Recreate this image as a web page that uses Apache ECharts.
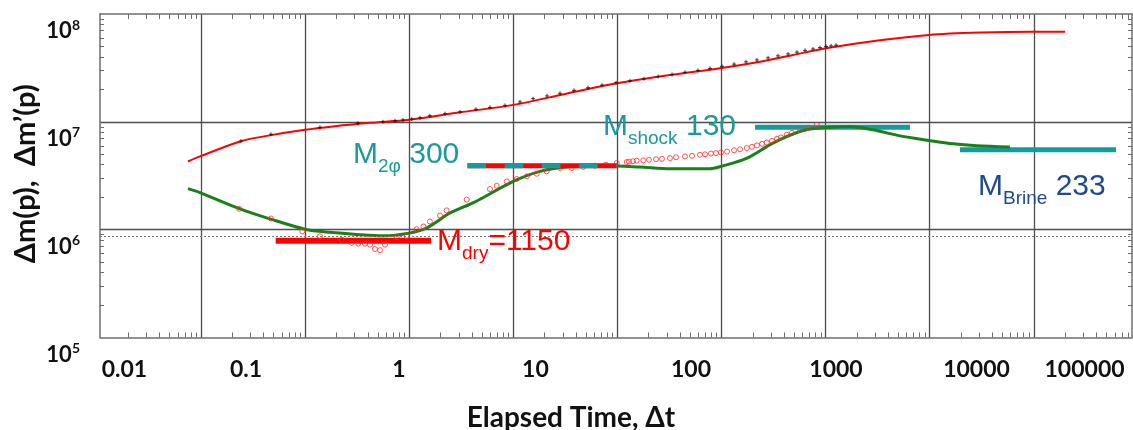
<!DOCTYPE html>
<html>
<head>
<meta charset="utf-8">
<script src="https://cdn.jsdelivr.net/npm/echarts@6/dist/echarts.min.js"></script>
<style>
  html, body { margin: 0; padding: 0; background: #ffffff; }
  #chart { width: 1133px; height: 430px; }
</style>
</head>
<body>
<div id="chart"></div>
<script>
// ---- Data -------------------------------------------------------------
// Δm(p): pseudo-pressure change, model curve
const dmTime  = [0.0075, 0.00977, 0.0237, 0.0431, 0.0998, 0.185, 0.42, 1.0, 3.08, 10, 31.3, 99,
                 320, 968, 2340, 4860, 10100, 31800, 98400, 304000, 982000, 2.0e6];
const dmValue = [4.29e6, 4.78e6, 6.58e6, 7.41e6, 8.43e6, 9.06e6, 9.8e6, 1.045e7, 1.225e7, 1.436e7, 1.815e7, 2.28e7,
                 2.72e7, 3.14e7, 3.61e7, 4.17e7, 4.81e7, 5.68e7, 6.4e7, 6.72e7, 6.85e7, 6.85e7];

// Δm(p): measured points (crosses)
const dmObsTime  = [0.0242, 0.047, 0.139, 0.322, 0.56, 0.731, 0.871, 1.06, 1.27, 1.58, 2.21, 3.08, 4.38, 5.97,
                    8.33, 11.6, 15.5, 21.1, 28.1, 38.3, 52.2, 71.2, 97, 132, 180, 246, 335, 446, 594, 775,
                    1010, 1320, 1720, 2190, 2800, 3490, 4360, 5310, 6340, 7570, 8840, 10100, 11300, 12600];
const dmObsValue = [6.62e6, 7.67e6, 8.9e6, 9.7e6, 1.0e7, 1.023e7, 1.04e7, 1.06e7, 1.09e7, 1.14e7, 1.19e7, 1.235e7, 1.31e7, 1.36e7,
                    1.42e7, 1.53e7, 1.64e7, 1.74e7, 1.84e7, 1.96e7, 2.07e7, 2.19e7, 2.3e7, 2.4e7, 2.51e7, 2.63e7, 2.75e7, 2.88e7, 3.0e7, 3.13e7,
                    3.27e7, 3.43e7, 3.6e7, 3.75e7, 3.92e7, 4.09e7, 4.26e7, 4.43e7, 4.6e7, 4.74e7, 4.88e7, 5.0e7, 5.06e7, 5.14e7];

// Δm'(p): derivative, measured points (circles)
const derivObsTime  = [0.0233, 0.047, 0.094, 0.139, 0.225, 0.28, 0.324, 0.376, 0.42, 0.469, 0.524, 0.586, 0.759, 0.946,
                       1.18, 1.37, 1.58, 1.98, 2.29, 3.57, 5.97, 6.93, 8.65, 10.8, 13.5, 16.8, 20.9, 28.1, 36.4, 47,
                       61, 77.6, 98.5, 123, 129, 141, 153, 177, 201, 235, 268, 320, 366, 446, 521, 621, 695, 792,
                       885, 988, 1130, 1320, 1510, 1750, 1960, 2190, 2450, 2720, 3050, 3410, 3730, 4230, 4750, 5680, 6780, 8220];
const derivObsValue = [1.56e6, 1.27e6, 9.64e5, 8.67e5, 8.07e5, 7.53e5, 7.41e5, 7.41e5, 7.26e5, 6.62e5, 6.46e5, 7.26e5, 8.55e5, 8.67e5,
                       1.01e6, 1.07e6, 1.19e6, 1.35e6, 1.51e6, 1.9e6, 2.38e6, 2.55e6, 2.8e6, 2.95e6, 3.12e6, 3.3e6, 3.47e6, 3.73e6, 3.73e6, 3.81e6,
                       3.92e6, 4.0e6, 4.15e6, 4.24e6, 4.27e6, 4.31e6, 4.36e6, 4.39e6, 4.45e6, 4.5e6, 4.54e6, 4.61e6, 4.69e6, 4.78e6, 4.84e6, 4.95e6, 5.0e6, 5.08e6,
                       5.13e6, 5.2e6, 5.3e6, 5.45e6, 5.56e6, 5.71e6, 5.87e6, 6.05e6, 6.25e6, 6.43e6, 6.67e6, 6.96e6, 7.18e6, 7.59e6, 7.9e6, 8.43e6, 8.8e6, 9.38e6];

// Δm'(p): derivative, model curve
const derivTime  = [0.0075, 0.00977, 0.0237, 0.0459, 0.0998, 0.173, 0.336, 0.56, 1, 1.48, 2.47, 4.1, 10, 18, 32.8, 79.5,
                    165, 320, 774, 988, 1760, 3120, 5670, 8260, 17100, 28500, 51800, 98400, 168000, 284000, 589000];
const derivValue = [2.4e6, 2.21e6, 1.56e6, 1.26e6, 1.01e6, 9.44e5, 8.99e5, 8.79e5, 9.29e5, 1.04e6, 1.43e6, 1.77e6, 2.8e6, 3.47e6, 3.81e6, 3.92e6,
                    3.81e6, 3.67e6, 3.67e6, 3.86e6, 4.61e6, 6.35e6, 8.13e6, 8.7e6, 9.05e6, 8.43e6, 7.41e6, 6.72e6, 6.25e6, 6.0e6, 5.83e6];

// Derivative stabilisation levels (start time, end time, level)
const dryRange    = [0.0522, 1.62];     const dryLevel    = 7.91e5;
const twoPhRange  = [3.63, 99.1];       const twoPhLevel  = 3.92e6;
const shockRange  = [2100, 64700];      const shockLevel  = 8.9e6;
const brineRange  = [195000, 6.15e6];   const brineLevel  = 5.51e6;
const referenceLevel = 8.67e5;          // dotted reference line

// Axis labels
const xTickLabels  = ['0.01', '0.1', '1', '10', '100', '1000', '10000', '100000'];
const xTickLabelAt = [0.00184, 0.0271, 0.798, 16.3, 509, 12590, 281600, 3.07e6];
const yTickValues  = [1e5, 1e6, 1e7, 1e8];
const xDecades     = [0.01, 0.1, 1, 10, 100, 1000, 1e4, 1e5, 1e6];
const yDecades     = [1e6, 1e7];

// ---- Helpers ----------------------------------------------------------
const pairs = (xs, ys) => xs.map((x, i) => [x, ys[i]]);
const level = (range, v) => [[range[0], v], [range[1], v]];
function minorTicks(k0, k1) {
  const out = [];
  for (let k = k0; k <= k1; k++) for (let m = 2; m <= 9; m++) out.push(+(m * Math.pow(10, k)).toPrecision(6));
  return out;
}

const TIME_MIN = 1.072e-3, TIME_MAX = 8.77e6;
const AXIS_FONT = 'Lato, "Open Sans", sans-serif';
const NOTE_FONT = '"Liberation Sans", Arial, sans-serif';
const GRID_COLOR = '#4d4d4d';
const FRAME_COLOR = '#6e6e6e';
const TEAL = '#139c9c';
const TEAL_TEXT = '#1a9a9a';
const RED = '#ff0000';
const GREEN = '#1b7f1b';
const NAVY = '#1f4a8a';

const logX = (extra) => Object.assign({
  type: 'log', logBase: 10, min: TIME_MIN, max: TIME_MAX,
  axisLine: { show: false }, axisTick: { show: false }, axisLabel: { show: false },
  splitLine: { show: false }
}, extra);
const logY = (extra) => Object.assign({
  type: 'log', logBase: 10, min: 1e5, max: 1e8,
  axisLine: { show: false }, axisTick: { show: false }, axisLabel: { show: false },
  splitLine: { show: false }
}, extra);

// Annotation text "M<sub>xx</sub> value", built from separate text pieces
// so that the subscript baseline can be dropped below the main baseline.
const MAIN_SIZE = 30, SUB_SIZE = 19, SUB_DROP = 17;
const measureCtx = document.createElement('canvas').getContext('2d');
function textWidth(text, size) {
  measureCtx.font = size + 'px ' + NOTE_FONT;
  return measureCtx.measureText(text).width;
}
function note(x, y, parts, color) {
  let cx = x;
  const children = parts.map(([text, isSub]) => {
    const size = isSub ? SUB_SIZE : MAIN_SIZE;
    const el = {
      type: 'text', x: cx, y: isSub ? y + SUB_DROP : y, z: 100,
      style: { text, fill: color, fontFamily: NOTE_FONT, fontSize: size, lineHeight: size, verticalAlign: 'top', align: 'left' }
    };
    cx += textWidth(text, size);
    return el;
  });
  return { type: 'group', children };
}

const chart = echarts.init(document.getElementById('chart'), null, { renderer: 'canvas' });

chart.setOption({
  animation: false,
  backgroundColor: '#ffffff',
  grid: { left: 100, right: 1, top: 14, bottom: 92.5, containLabel: false, outerBoundsMode: 'none' },
  xAxis: [
    // decade grid + bottom frame, carries the data
    logX({
      position: 'bottom',
      axisLine: { show: true, lineStyle: { color: FRAME_COLOR, width: 1.5 } },
      axisTick: { show: false, customValues: xDecades },
      splitLine: { show: true, lineStyle: { color: GRID_COLOR, width: 1.3 } },
      name: 'Elapsed Time, \u0394t', nameLocation: 'middle', nameGap: 66,
      nameTextStyle: { fontFamily: AXIS_FONT, fontWeight: 'bold', fontSize: 28, color: '#111', padding: [0, 90, 0, 0] }
    }),
    // bottom minor ticks and tick labels
    logX({
      position: 'bottom',
      axisTick: { show: true, inside: true, length: 5, customValues: minorTicks(-3, 6), lineStyle: { color: FRAME_COLOR, width: 1 } },
      axisLabel: {
        show: true, customValues: xTickLabelAt, margin: 21,
        fontFamily: AXIS_FONT, fontWeight: 'bold', fontSize: 23, color: '#111',
        formatter: (v) => {
          const i = xTickLabelAt.findIndex(p => Math.abs(p - v) / p < 1e-3);
          return i >= 0 ? xTickLabels[i] : '';
        }
      }
    }),
    // top frame with minor ticks
    logX({
      position: 'top',
      axisLine: { show: true, lineStyle: { color: FRAME_COLOR, width: 1.5 } },
      axisTick: { show: true, inside: true, length: 5, customValues: minorTicks(-3, 6), lineStyle: { color: FRAME_COLOR, width: 1 } }
    })
  ],
  yAxis: [
    logY({
      position: 'left',
      axisLine: { show: true, lineStyle: { color: FRAME_COLOR, width: 1.5 } },
      axisTick: { show: false, customValues: yDecades },
      splitLine: { show: true, lineStyle: { color: GRID_COLOR, width: 1.3 } },
      name: '\u0394m(p),  \u0394m\u2019(p)', nameLocation: 'middle', nameGap: 60, nameRotate: 90,
      nameTextStyle: { fontFamily: AXIS_FONT, fontWeight: 'bold', fontSize: 29, color: '#111', padding: [0, 0, 0, 4] }
    }),
    logY({
      position: 'left',
      axisTick: { show: true, inside: true, length: 4, customValues: minorTicks(5, 7), lineStyle: { color: FRAME_COLOR, width: 1 } },
      axisLabel: {
        show: true, customValues: yTickValues, margin: 20,
        verticalAlign: 'top', padding: [4, 0, 0, 0],
        formatter: (v) => '{b|10}{p|' + Math.round(Math.log10(v)) + '}',
        rich: {
          b: { fontFamily: AXIS_FONT, fontWeight: 'bold', fontSize: 22, lineHeight: 24, color: '#111', verticalAlign: 'bottom' },
          p: { fontFamily: AXIS_FONT, fontWeight: 'bold', fontSize: 14, lineHeight: 14, color: '#111', verticalAlign: 'top' }
        }
      }
    }),
    logY({
      position: 'right',
      axisLine: { show: true, lineStyle: { color: FRAME_COLOR, width: 1.5 } },
      axisTick: { show: true, inside: true, length: 4, customValues: minorTicks(5, 7), lineStyle: { color: FRAME_COLOR, width: 1 } }
    })
  ],
  series: [
    {
      name: 'M dry', type: 'line', data: level(dryRange, dryLevel), symbol: 'none', z: 3,
      lineStyle: { color: RED, width: 6, cap: 'butt' },
      markLine: {
        silent: true, symbol: 'none', label: { show: false },
        lineStyle: { color: '#7a7a7a', width: 1, type: [2, 2] },
        data: [{ yAxis: referenceLevel }]
      }
    },
    { name: 'M shock', type: 'line', data: level(shockRange, shockLevel), symbol: 'none', z: 3,
      lineStyle: { color: TEAL, width: 5, cap: 'butt' } },
    { name: 'M brine', type: 'line', data: level(brineRange, brineLevel), symbol: 'none', z: 3,
      lineStyle: { color: TEAL, width: 5, cap: 'butt' } },
    { name: "Δm'(p) model", type: 'line', data: pairs(derivTime, derivValue), symbol: 'none', smooth: 0.3, z: 4,
      lineStyle: { color: GREEN, width: 3 } },
    { name: "Δm'(p)", type: 'scatter', data: pairs(derivObsTime, derivObsValue), symbol: 'circle', symbolSize: 5, z: 5,
      itemStyle: { color: 'rgba(255,255,255,0)', borderColor: '#ff2a2a', borderWidth: 1 } },
    { name: 'Δm(p) model', type: 'line', data: pairs(dmTime, dmValue), symbol: 'none', smooth: 0.3, z: 5,
      lineStyle: { color: RED, width: 2 } },
    { name: 'Δm(p)', type: 'scatter', data: pairs(dmObsTime, dmObsValue), symbol: 'path://M0,5L10,5M5,0L5,10', symbolSize: 4, z: 6,
      itemStyle: { color: 'rgba(0,0,0,0)', borderColor: '#111', borderWidth: 1 } },
    { name: 'M 2phase', type: 'line', data: level(twoPhRange, twoPhLevel), symbol: 'none', z: 7,
      lineStyle: { color: RED, width: 5, cap: 'butt' } },
    { name: 'M 2phase dash', type: 'line', data: level(twoPhRange, twoPhLevel), symbol: 'none', z: 8,
      lineStyle: { color: TEAL, width: 5, cap: 'butt', type: [18.6, 18.6] } }
  ],
  graphic: [
    note(353, 140, [['M'], ['2\u03c6', true], [' 300']], TEAL_TEXT),
    note(603, 112, [['M'], ['shock', true], [' 130']], TEAL_TEXT),
    note(978, 172, [['M'], ['Brine', true], [' 233']], NAVY),
    note(437, 227, [['M'], ['dry', true], ['=1150']], RED)
  ]
});
</script>
</body>
</html>
